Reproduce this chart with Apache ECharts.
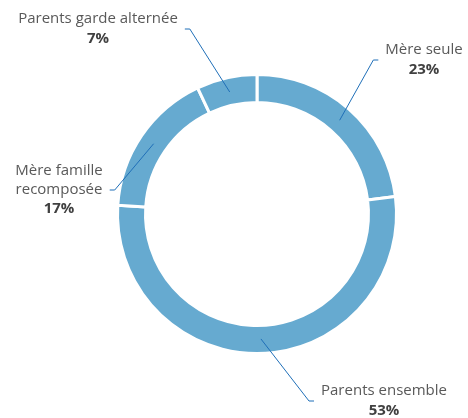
<!DOCTYPE html>
<html>
<head>
<meta charset="utf-8">
<script src="https://cdn.jsdelivr.net/npm/echarts@6/dist/echarts.min.js"></script>
<style>
  html, body { margin: 0; padding: 0; background: #fff; }
  #chart { width: 468px; height: 418px; }
</style>
</head>
<body>
<div id="chart"></div>
<script>
// données
var categories = ["Mère seule", "Parents ensemble", "Mère famille\nrecomposée", "Parents garde alternée"];
var shares = [23, 53, 17, 7];

// position des étiquettes (centre du bloc de texte)
var labelCenters = [[424, 60], [384, 401], [59, 190], [98, 29]];

var myChart = echarts.init(document.getElementById("chart"));

var data = categories.map(function (c, i) {
  return { name: c, value: shares[i] };
});

var option = {
  animation: false,
  series: [
    {
      // anneau
      type: "pie",
      center: [257, 214],
      radius: [111.5, 139.5],
      startAngle: 90,
      clockwise: true,
      silent: true,
      label: { show: false },
      labelLine: { show: false },
      itemStyle: { color: "#66aad0", borderColor: "#fff", borderWidth: 3 },
      data: data
    },
    {
      // série invisible pour les étiquettes (ancrées au milieu de l'anneau)
      type: "pie",
      z: 3,
      center: [257, 214],
      radius: [0, 125],
      startAngle: 90,
      clockwise: true,
      silent: true,
      itemStyle: { color: "transparent" },
      label: {
        show: true,
        position: "outside",
        overflow: "none",
        color: "#595959",
        formatter: "{n|{b}}\n{p|{c}%}",
        rich: {
          n: { fontFamily: "Open Sans", fontSize: 15, color: "#595959", lineHeight: 19 },
          p: { fontFamily: "Open Sans", fontSize: 15, fontWeight: "bold", color: "#404040", lineHeight: 20 }
        }
      },
      labelLine: { show: true, lineStyle: { color: "#1f6fb8", width: 1 } },
      labelLayout: function (params) {
        var c = labelCenters[params.dataIndex];
        var r = params.labelRect;
        var a = params.labelLinePoints[0];
        var edgeX, elbowX;
        if (c[0] < a[0]) {
          edgeX = c[0] + r.width / 2 + 7;
          elbowX = edgeX + 5;
        } else {
          edgeX = c[0] - r.width / 2 - 7;
          elbowX = edgeX - 5;
        }
        return {
          x: c[0],
          y: c[1],
          align: "center",
          verticalAlign: "middle",
          labelLinePoints: [a, [elbowX, c[1]], [edgeX, c[1]]]
        };
      },
      data: data
    }
  ]
};

myChart.setOption(option);
</script>
</body>
</html>
